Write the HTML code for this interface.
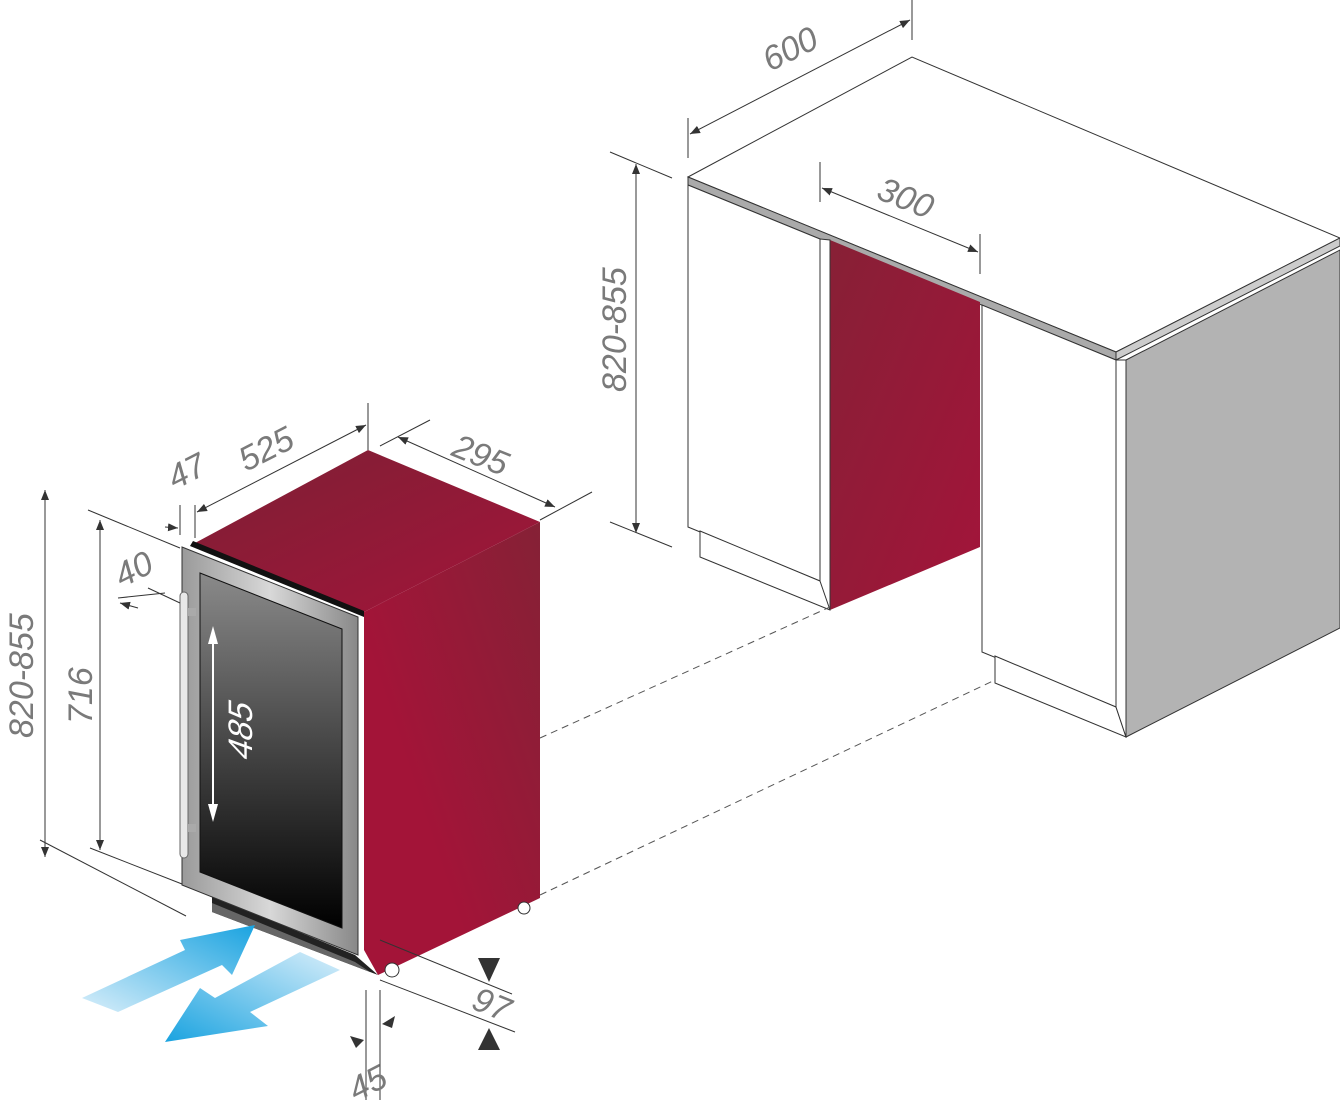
<!DOCTYPE html>
<html><head><meta charset="utf-8"><style>
html,body{margin:0;padding:0;background:#fff;}
svg{display:block;}
.d{font-family:"Liberation Sans","DejaVu Sans",sans-serif;font-size:34px;fill:#7a7a7a;font-style:italic;}
.l{stroke:#333;stroke-width:1;fill:none;}
</style></head><body>
<svg width="1340" height="1118" viewBox="0 0 1340 1118" xmlns="http://www.w3.org/2000/svg">
<defs>
<marker id="a" viewBox="0 0 10 10" refX="10" refY="5" markerWidth="10" markerHeight="10" orient="auto-start-reverse" markerUnits="userSpaceOnUse"><path d="M0,1 L10,5 L0,9 z" fill="#333"/></marker>
<linearGradient id="red1" x1="0" y1="0" x2="1" y2="1"><stop offset="0" stop-color="#7d2034"/><stop offset="1" stop-color="#a3143a"/></linearGradient>
<linearGradient id="red2" x1="1" y1="0" x2="0.3" y2="0.6"><stop offset="0" stop-color="#852136"/><stop offset="1" stop-color="#a31438"/></linearGradient>
<linearGradient id="red3" x1="0" y1="0" x2="1" y2="1"><stop offset="0" stop-color="#872036"/><stop offset="1" stop-color="#a3143a"/></linearGradient>
<linearGradient id="glass" x1="0" y1="0" x2="0" y2="1"><stop offset="0" stop-color="#8a8a8a"/><stop offset="0.5" stop-color="#444"/><stop offset="1" stop-color="#000"/></linearGradient>
<linearGradient id="steel" x1="0" y1="0" x2="1" y2="0"><stop offset="0" stop-color="#9a9a9a"/><stop offset="0.5" stop-color="#d8d8d8"/><stop offset="1" stop-color="#888"/></linearGradient>
<linearGradient id="blue1" x1="0" y1="1" x2="1" y2="0"><stop offset="0" stop-color="#d8eefa"/><stop offset="1" stop-color="#1aa3e0"/></linearGradient>
<linearGradient id="blue2" x1="1" y1="0" x2="0" y2="1"><stop offset="0" stop-color="#d8eefa"/><stop offset="1" stop-color="#1aa3e0"/></linearGradient>
</defs>

<polygon points="1126,360 1340,250 1340,628 1126,737" fill="#b3b3b3" stroke="#333"/>
<polygon points="688,177 912,57 1340,238 1116,352" fill="#fff" stroke="#333"/>
<polygon points="688,177 1116,352 1116,360 688,185" fill="#aaa" stroke="#333"/>
<polygon points="1116,352 1340,238 1340,246 1116,360" fill="#ccc" stroke="#333"/>
<polygon points="688,185 820,239 820,581 688,527" fill="#fff" stroke="#333"/>
<polygon points="700,531 820,581 830,585 830,610 700,557" fill="#fff" stroke="#333"/>
<polygon points="830,240 980,302 980,547 830,610" fill="url(#red3)"/>
<polygon points="820,239 830,240 830,610 820,581" fill="#fff" stroke="#333"/>
<polygon points="982,305 1116,360 1116,707 982,652" fill="#fff" stroke="#333"/>
<polygon points="995,656 1116,707 1126,737 995,683" fill="#fff" stroke="#333"/>
<polygon points="1116,360 1126,360 1126,737 1116,707" fill="#fff" stroke="#333"/>

<line x1="540" y1="738" x2="830" y2="607" stroke="#555" stroke-dasharray="7,5"/>
<line x1="540" y1="895" x2="995" y2="680" stroke="#555" stroke-dasharray="7,5"/>

<polygon points="364,612 540,522 540,898 378,975 364,950" fill="url(#red2)"/>
<polygon points="195,543 368,450 540,522 364,612" fill="url(#red1)"/>
<polygon points="193,541 364,611 364,617 190,546" fill="#111"/>
<circle cx="524" cy="908" r="6" fill="#fff" stroke="#333"/>
<circle cx="392" cy="970" r="7" fill="#fff" stroke="#333"/>
<polygon points="212,896 355,955 378,975 212,912" fill="#222"/>
<polygon points="212,903 355,962 370,972 212,912" fill="#666"/>
<polygon points="182,547 358,617 358,955 182,885" fill="url(#steel)" stroke="#333"/>
<polygon points="200,573 342,629 342,928 200,872" fill="url(#glass)" stroke="#111"/>
<rect x="180" y="592" width="8" height="266" rx="4" fill="#e8e8e8" stroke="#666"/>
<rect x="188" y="608" width="8" height="8" fill="#aaa"/>
<rect x="188" y="824" width="8" height="8" fill="#aaa"/>
<line x1="213" y1="632" x2="213" y2="815" stroke="#fff" stroke-width="2"/>
<polygon points="213,626 208,644 218,644" fill="#fff"/>
<polygon points="213,822 208,804 218,804" fill="#fff"/>
<text class="d" transform="translate(252,762) rotate(-90) skewX(-20)" style="fill:#fff;font-style:normal">485</text>

<polygon points="82,998 185,950 180,940 255,925 232,975 222,965 118,1012" fill="url(#blue1)"/>
<polygon points="340,970 250,1012 268,1026 165,1042 200,988 215,998 300,952" fill="url(#blue2)"/>

<g class="l">
<line x1="688" y1="118" x2="688" y2="158"/><line x1="912" y1="0" x2="912" y2="40"/>
<line x1="690" y1="134" x2="910" y2="20" marker-start="url(#a)" marker-end="url(#a)"/>
<line x1="820" y1="162" x2="820" y2="202"/><line x1="980" y1="234" x2="980" y2="274"/>
<line x1="822" y1="188" x2="978" y2="252" marker-start="url(#a)" marker-end="url(#a)"/>
<line x1="610" y1="152" x2="672" y2="178"/><line x1="610" y1="522" x2="672" y2="547"/>
<line x1="636" y1="164" x2="636" y2="533" marker-start="url(#a)" marker-end="url(#a)"/>
<line x1="368" y1="403" x2="368" y2="450"/><line x1="195" y1="505" x2="195" y2="538"/>
<line x1="197" y1="512" x2="366" y2="425" marker-start="url(#a)" marker-end="url(#a)"/>
<line x1="180" y1="505" x2="180" y2="535"/>
<line x1="165" y1="527" x2="178" y2="528" marker-end="url(#a)"/>
<line x1="380" y1="446" x2="430" y2="420"/><line x1="540" y1="520" x2="592" y2="492"/>
<line x1="398" y1="437" x2="555" y2="507" marker-start="url(#a)" marker-end="url(#a)"/>
<line x1="118" y1="598" x2="165" y2="593"/><line x1="148" y1="588" x2="180" y2="603"/>
<line x1="120" y1="603" x2="138" y2="608" marker-start="url(#a)"/>
<line x1="45" y1="490" x2="45" y2="857" marker-start="url(#a)" marker-end="url(#a)"/>
<line x1="40" y1="840" x2="186" y2="916"/>
<line x1="88" y1="510" x2="180" y2="548"/><line x1="90" y1="848" x2="182" y2="884"/>
<line x1="100" y1="520" x2="100" y2="850" marker-start="url(#a)" marker-end="url(#a)"/>
<line x1="380" y1="940" x2="512" y2="994"/><line x1="380" y1="980" x2="515" y2="1032"/>
<line x1="366" y1="990" x2="366" y2="1100"/><line x1="380" y1="990" x2="380" y2="1100"/>
</g>
<polygon points="478,958 500,958 489,982" fill="#333"/>
<polygon points="478,1050 500,1050 489,1028" fill="#333"/>
<polygon points="350,1036 364,1040 356,1048" fill="#333"/>
<polygon points="395,1016 382,1024 392,1028" fill="#333"/>

<text class="d" transform="translate(770,72) rotate(-27)">600</text>
<text class="d" transform="translate(875,198) rotate(22)">300</text>
<text class="d" transform="translate(626,392) rotate(-90)">820-855</text>
<text class="d" transform="translate(246,472) rotate(-27)">525</text>
<text class="d" transform="translate(175,490) rotate(-27)">47</text>
<text class="d" transform="translate(450,455) rotate(22)">295</text>
<text class="d" transform="translate(122,588) rotate(-27)">40</text>
<text class="d" transform="translate(33,738) rotate(-90)">820-855</text>
<text class="d" transform="translate(92,724) rotate(-90)">716</text>
<text class="d" transform="translate(470,1008) rotate(22)">97</text>
<text class="d" transform="translate(356,1102) rotate(-27)">45</text>
</svg>
</body></html>
